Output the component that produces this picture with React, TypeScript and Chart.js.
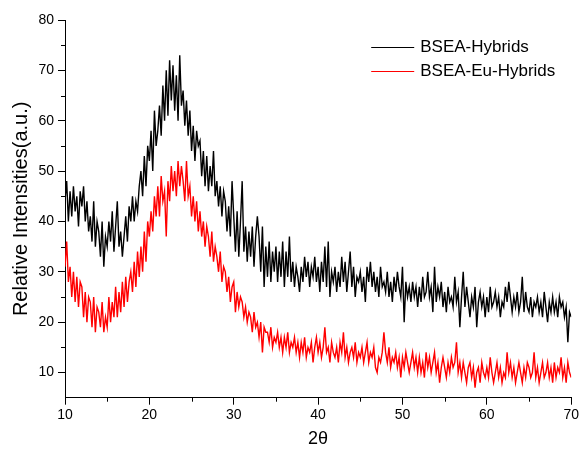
import React, { useEffect, useRef } from 'react';
import { Chart, registerables } from 'chart.js';

Chart.register(...registerables);

// 2θ sampling grid of the scan
const THETA_START = 10;
const THETA_STEP = 0.2;

// Relative intensities, one row per degree (10.0, 10.2, ... 10.8)
const bseaHybrids = [
  44, 48, 40, 46, 41,
  47, 42, 45, 39, 46,
  43, 47, 40, 44, 38,
  41, 36, 44, 35, 40,
  38, 33, 40, 31, 37,
  35, 40, 36, 42, 34,
  39, 44, 35, 38, 33,
  37, 41, 36, 43, 40,
  45, 40, 44, 42, 47,
  50, 45, 53, 47, 55,
  52, 58, 50, 62, 55,
  58, 63, 57, 67, 60,
  70, 61, 72, 64, 71,
  62, 69, 60, 73, 63,
  66, 59, 64, 57, 62,
  54, 59, 52, 58, 55,
  56, 49, 54, 47, 53,
  46, 51, 47, 54, 45,
  48, 43, 47, 41, 46,
  44, 38, 43, 37, 48,
  41, 34, 42, 33, 40,
  48, 34, 39, 32, 38,
  33, 39, 31, 37, 41,
  37, 30, 39, 27, 35,
  29, 36, 28, 34, 30,
  35, 28, 34, 29, 36,
  27, 34, 29, 37, 28,
  32, 27, 31, 29, 26,
  31, 28, 33, 29, 32,
  27, 31, 29, 33, 28,
  31, 26, 32, 28, 35,
  27, 36, 25, 30, 28,
  31, 26, 30, 27, 33,
  28, 32, 26, 30, 34,
  27, 31, 25, 29, 28,
  30, 26, 29, 24, 31,
  28, 32, 27, 30, 26,
  29, 25, 31, 27, 28,
  26, 30, 25, 28, 24,
  29, 26, 30, 27, 25,
  31, 20, 28, 25, 27,
  24, 28, 25, 27, 23,
  27, 24, 29, 25, 26,
  30, 25, 27, 22, 31,
  24, 27, 25, 28, 23,
  26, 22, 27, 24, 25,
  23, 29, 24, 26, 19,
  25, 30, 23, 27, 24,
  21, 25, 23, 27, 19,
  24, 26, 23, 25, 21,
  25, 22, 27, 23, 24,
  26, 23, 25, 21, 24,
  23, 27, 24, 28, 25,
  22, 25, 23, 26, 22,
  24, 29, 22, 26, 23,
  22, 25, 21, 24, 23,
  25, 22, 24, 21, 26,
  23, 20, 24, 22, 25,
  22, 24, 21, 25, 23,
  24, 21, 23, 16, 22,
  21,
];

const bseaEuHybrids = [
  31, 36, 28, 31, 25,
  30, 24, 29, 23, 28,
  27, 21, 26, 20, 25,
  24, 19, 25, 18, 23,
  22, 19, 24, 18, 21,
  19, 25, 20, 24, 21,
  27, 21, 26, 22, 28,
  23, 29, 24, 28, 30,
  26, 32, 27, 34, 29,
  35, 30, 38, 32, 40,
  37, 42, 38, 45, 41,
  47, 41, 49, 44, 46,
  37, 48, 44, 51, 46,
  50, 45, 52, 47, 51,
  48, 44, 52, 45, 47,
  41, 45, 40, 44, 38,
  42, 37, 40, 35, 39,
  37, 33, 38, 32, 35,
  33, 30, 34, 28, 31,
  30, 26, 29, 24, 27,
  28, 22, 26, 23, 25,
  24, 21, 23, 20, 22,
  21, 18, 22, 19, 20,
  17, 20, 14, 19, 18,
  18, 16, 19, 15, 17,
  16, 18, 15, 17, 14,
  17, 15, 18, 14, 16,
  15, 17, 14, 16, 13,
  16, 14, 17, 13, 15,
  14, 16, 12, 15, 17,
  14, 16, 13, 15, 19,
  14, 15, 12, 16, 14,
  13, 15, 12, 16, 14,
  18, 13, 15, 12, 14,
  15, 13, 16, 12, 14,
  13, 15, 12, 14, 16,
  12, 14, 13, 15, 11,
  10, 13, 12, 14, 18,
  14, 12, 15, 11, 13,
  12, 14, 11, 13, 9,
  13, 11, 14, 12, 10,
  12, 14, 11, 13, 10,
  13, 10, 12, 9, 14,
  11, 13, 10, 12, 14,
  10, 12, 8, 11, 13,
  11, 9, 12, 10, 13,
  11, 12, 16, 10, 12,
  9, 12, 10, 8, 11,
  12, 9, 11, 7, 10,
  11, 8, 12, 10, 9,
  11, 9, 13, 10, 8,
  10, 12, 9, 11, 8,
  10, 9, 14, 10, 12,
  9, 11, 8, 10, 12,
  10, 8, 11, 9, 12,
  11, 9, 10, 14, 9,
  11, 8, 10, 12, 9,
  10, 12, 9, 11, 8,
  12, 9, 11, 10, 13,
  9, 11, 8, 12, 10,
  9,
];

const seriesLabels = ['BSEA-Hybrids', 'BSEA-Eu-Hybrids'];
const seriesColors = ['#000000', '#ff0000'];

const xTicks = [10, 20, 30, 40, 50, 60, 70];
const xMinorTicks = [15, 25, 35, 45, 55, 65];
const yTicks = [10, 20, 30, 40, 50, 60, 70, 80];
const yMinorTicks = [15, 25, 35, 45, 55, 65, 75];

const xTitle = '2θ';
const yTitle = 'Relative Intensities(a.u.)';

const FONT = '"Liberation Sans", Arial, sans-serif';

const toPoints = (vals: number[]) =>
  vals.map((v, i) => ({ x: +(THETA_START + i * THETA_STEP).toFixed(1), y: v }));

const minorTicksPlugin = {
  id: 'minorTicks',
  afterDraw(chart: any) {
    const { ctx, chartArea, scales } = chart;
    const xs = scales.x;
    const ys = scales.y;
    ctx.save();
    ctx.strokeStyle = '#000';
    ctx.lineWidth = 1;
    ctx.beginPath();
    xMinorTicks.forEach((v) => {
      const px = Math.round(xs.getPixelForValue(v)) + 0.5;
      ctx.moveTo(px, chartArea.bottom);
      ctx.lineTo(px, chartArea.bottom + 4);
    });
    yMinorTicks.forEach((v) => {
      const py = Math.round(ys.getPixelForValue(v)) + 0.5;
      ctx.moveTo(chartArea.left, py);
      ctx.lineTo(chartArea.left - 4, py);
    });
    ctx.stroke();
    ctx.restore();
  },
};

const legendPlugin = {
  id: 'innerLegend',
  afterDraw(chart: any) {
    const { ctx, chartArea } = chart;
    ctx.save();
    ctx.font = `17px ${FONT}`;
    ctx.textBaseline = 'middle';
    ctx.textAlign = 'left';
    const x0 = chartArea.right - 200;
    seriesLabels.forEach((label, i) => {
      const y = Math.round(chartArea.top + 27 + i * 24) + 0.5;
      ctx.strokeStyle = seriesColors[i];
      ctx.lineWidth = 1;
      ctx.beginPath();
      ctx.moveTo(x0, y);
      ctx.lineTo(x0 + 43, y);
      ctx.stroke();
      ctx.fillStyle = '#000';
      ctx.fillText(label, x0 + 49, y);
    });
    ctx.restore();
  },
};

export default function App() {
  const canvasRef = useRef<HTMLCanvasElement | null>(null);

  useEffect(() => {
    if (!canvasRef.current) return;
    const chart = new Chart(canvasRef.current, {
      type: 'line',
      data: {
        datasets: [
          {
            label: seriesLabels[0],
            data: toPoints(bseaHybrids),
            borderColor: seriesColors[0],
            backgroundColor: seriesColors[0],
            borderWidth: 1.4,
            pointRadius: 0,
            tension: 0,
            fill: false,
          },
          {
            label: seriesLabels[1],
            data: toPoints(bseaEuHybrids),
            borderColor: seriesColors[1],
            backgroundColor: seriesColors[1],
            borderWidth: 1.4,
            pointRadius: 0,
            tension: 0,
            fill: false,
          },
        ],
      },
      options: {
        responsive: false,
        animation: false,
        devicePixelRatio: 1,
        events: [],
        layout: { padding: { top: 20, right: 9.3, left: 0, bottom: 0 } },
        plugins: {
          legend: { display: false },
          tooltip: { enabled: false },
          title: { display: false },
        },
        scales: {
          x: {
            type: 'linear',
            min: 10,
            max: 70,
            afterBuildTicks: (scale: any) => {
              scale.ticks = xTicks.map((v) => ({ value: v }));
            },
            afterFit: (scale: any) => {
              scale.height = 52.3;
            },
            grid: {
              drawOnChartArea: false,
              drawTicks: true,
              tickLength: 7,
              tickColor: '#000',
              tickWidth: 1,
            },
            border: { display: true, color: '#000', width: 1 },
            ticks: {
              color: '#000',
              font: { family: FONT, size: 14 },
              padding: 2,
              maxRotation: 0,
              autoSkip: false,
            },
            title: {
              display: true,
              text: xTitle,
              color: '#000',
              font: { family: FONT, size: 18 },
              padding: { top: 0, bottom: 0 },
            },
          },
          y: {
            type: 'linear',
            min: 5,
            max: 80,
            afterBuildTicks: (scale: any) => {
              scale.ticks = yTicks.map((v) => ({ value: v }));
            },
            afterFit: (scale: any) => {
              scale.width = 65;
            },
            grid: {
              drawOnChartArea: false,
              drawTicks: true,
              tickLength: 7,
              tickColor: '#000',
              tickWidth: 1,
            },
            border: { display: true, color: '#000', width: 1 },
            ticks: {
              color: '#000',
              font: { family: FONT, size: 14 },
              padding: 4,
              autoSkip: false,
            },
            title: {
              display: true,
              text: yTitle,
              color: '#000',
              font: { family: FONT, size: 20 },
              padding: { top: 9, bottom: 0 },
            },
          },
        },
      },
      plugins: [minorTicksPlugin, legendPlugin],
    } as any);
    return () => chart.destroy();
  }, []);

  return (
    <div style={{ position: 'absolute', left: 0, top: 0, width: 581, height: 450, background: '#fff' }}>
      <canvas ref={canvasRef} width={581} height={450} />
    </div>
  );
}
